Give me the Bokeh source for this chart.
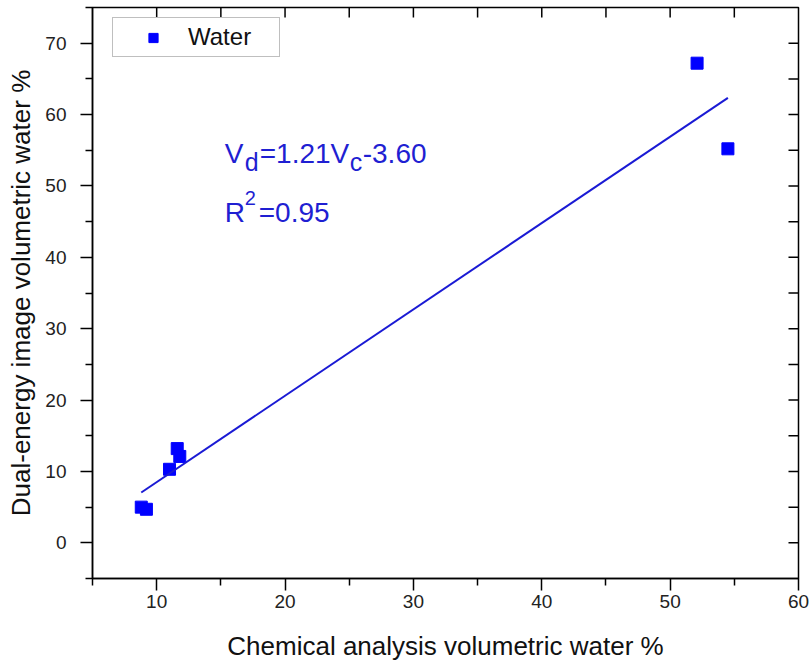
from bokeh.plotting import figure
from bokeh.models import (ColumnDataSource, FixedTicker, Range1d,
                          Legend, LegendItem)
from bokeh.embed import file_html
from bokeh.resources import INLINE
from bokeh.core.properties import value

# ---- data ----
chem_water = [52.1, 54.5, 8.8, 9.2, 11.0, 11.6, 11.8]
dual_water = [67.2, 55.2, 5.0, 4.7, 10.3, 13.2, 12.1]
fit_slope = 1.21
fit_intercept = -3.60
fit_x = [min(chem_water), max(chem_water)]
fit_y = [fit_slope * v + fit_intercept for v in fit_x]

x_major = [10, 20, 30, 40, 50, 60]
x_minor = [5, 15, 25, 35, 45, 55]
y_major = [0, 10, 20, 30, 40, 50, 60, 70]
y_minor = [-5, 5, 15, 25, 35, 45, 55, 65, 75]
mirror_ticks_x = [10, 15, 20, 25, 30, 35, 40, 45, 50, 55]
mirror_ticks_y = [0, 5, 10, 15, 20, 25, 30, 35, 40, 45, 50, 55, 60, 65, 70]

eq_pieces = ["V", "d", "=1.21V", "c", "-3.60", "R", "2", "=0.95"]

FONT = "Liberation Sans"
PT_BLUE = "#0000ff"
LINE_BLUE = "#1a1ad4"
TXT_BLUE = "#1f1fd2"

X0, X1, Y0, Y1 = 5, 60, -5, 75
p = figure(width=812, height=663, x_range=Range1d(X0, X1), y_range=Range1d(Y0, Y1),
           output_backend="svg", toolbar_location=None,
           min_border_left=92, min_border_right=14, min_border_top=7,
           min_border_bottom=83)
p.grid.visible = False
p.outline_line_color = "black"
p.outline_line_width = 1.5
p.background_fill_color = "white"
p.border_fill_color = "white"

# bottom axis
xa = p.xaxis[0]
xa.ticker = FixedTicker(ticks=x_major, minor_ticks=x_minor)
xa.axis_label = "Chemical analysis volumetric water %"
# left axis
ya = p.yaxis[0]
ya.ticker = FixedTicker(ticks=y_major, minor_ticks=y_minor)
ya.axis_label = "Dual-energy image volumetric water %"

for ax in (xa, ya):
    ax.axis_line_color = "black"
    ax.axis_line_width = 1.5
    ax.major_tick_line_color = "black"
    ax.major_tick_line_width = 1.5
    ax.minor_tick_line_color = "black"
    ax.minor_tick_line_width = 1.5
    ax.major_tick_in = 0
    ax.major_tick_out = 12
    ax.minor_tick_in = 0
    ax.minor_tick_out = 7
    ax.major_label_text_font = FONT
    ax.major_label_text_font_size = "19px"
    ax.major_label_text_color = "#222222"
    ax.axis_label_text_font = FONT
    ax.axis_label_text_font_size = "26px"
    ax.axis_label_text_font_style = "normal"
    ax.axis_label_text_color = "#111111"
xa.major_label_standoff = 4
xa.axis_label_standoff = 20
ya.major_label_standoff = 14
ya.axis_label_standoff = 6

# mirror ticks on top and right edges (pointing inward)
tick_len_y = 10 * (Y1 - Y0) / 573.0
tick_len_x = 10 * (X1 - X0) / 706.0
p.segment(x0=mirror_ticks_x, x1=mirror_ticks_x,
          y0=[Y1] * len(mirror_ticks_x), y1=[Y1 - tick_len_y] * len(mirror_ticks_x),
          line_color="black", line_width=1.5)
p.segment(x0=[X1] * len(mirror_ticks_y), x1=[X1 - tick_len_x] * len(mirror_ticks_y),
          y0=mirror_ticks_y, y1=mirror_ticks_y,
          line_color="black", line_width=1.5)

# data
src = ColumnDataSource(dict(x=chem_water, y=dual_water))
pts = p.scatter("x", "y", source=src, marker="square", size=12,
                fill_color=PT_BLUE, line_color=PT_BLUE)
fit_src = ColumnDataSource(dict(x=fit_x, y=fit_y))
p.line("x", "y", source=fit_src, line_color=LINE_BLUE, line_width=2)

# equation text
ax0, ay0 = 15.3, 54.6
eq_src = ColumnDataSource(dict(
    x=[ax0] * 8, y=[ay0] * 8, text=eq_pieces,
    xo=[0, 20, 35, 125, 138, 0, 20, 34],
    yo=[0, 9, 0, 9, 0, 59, 45, 59],
    fs=["28px", "25px", "28px", "25px", "28px", "28px", "20px", "28px"],
))
p.text(x="x", y="y", text="text", x_offset="xo", y_offset="yo",
       text_font_size="fs", text_font=value(FONT), text_color=TXT_BLUE,
       text_align="left", text_baseline="alphabetic", source=eq_src)

legend = Legend(items=[LegendItem(label="Water", renderers=[pts])],
                location=(20, 521))
legend.border_line_color = "#808080"
legend.border_line_width = 1
legend.background_fill_color = "white"
legend.background_fill_alpha = 1
legend.label_text_font = FONT
legend.label_text_font_size = "24px"
legend.label_text_color = "#111111"
legend.padding = 5
legend.spacing = 0
legend.margin = 0
legend.glyph_width = 70
legend.glyph_height = 23
legend.label_standoff = 0
legend.label_width = 86
legend.label_height = 23
p.add_layout(legend)

open("out.html", "w").write(file_html(p, INLINE))
